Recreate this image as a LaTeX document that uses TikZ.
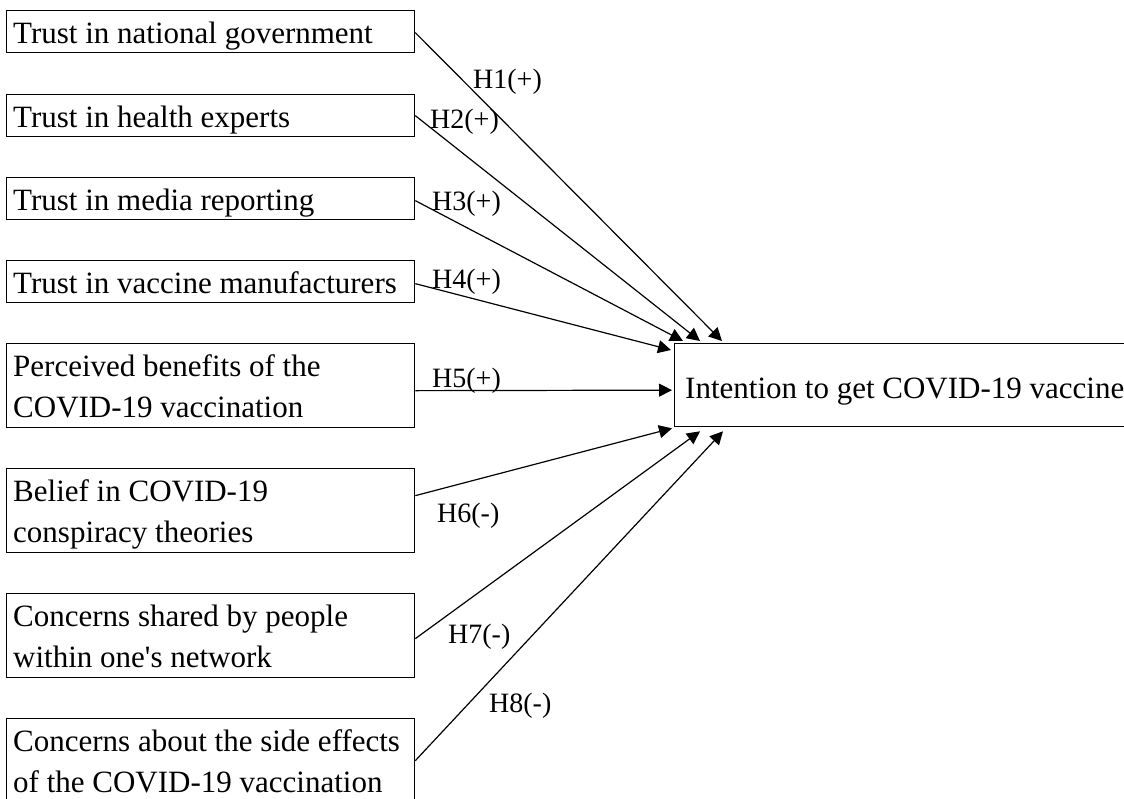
\documentclass[tikz,border=0pt]{standalone}
\usepackage{fontspec}
\setmainfont{Liberation Serif}
\usetikzlibrary{arrows.meta}
\tikzset{
  box/.style={draw=black, line width=1.3pt, inner sep=0pt, anchor=north west, minimum width=408pt},
  onebox/.style={box, minimum height=42pt},
  twobox/.style={box, minimum height=84pt},
  txt/.style={anchor=north west, inner sep=0pt, align=left, font=\fontsize{31}{41}\selectfont},
  hlab/.style={anchor=base west, inner sep=0pt, font=\fontsize{28}{34}\selectfont},
  link/.style={draw=black, line width=1.2pt, -{Triangle[length=13pt,width=13pt]}}
}
\newcommand{\fst}{\rule{0pt}{23pt}}
\begin{document}
\begin{tikzpicture}[x=1pt, y=-1pt]
\useasboundingbox (0,0) rectangle (1124,798);
\clip (0,0) rectangle (1124,798);
% predictor boxes
\node[onebox] (b1) at (6,10) {};
\node[onebox] (b2) at (6,94) {};
\node[onebox] (b3) at (6,177) {};
\node[onebox] (b4) at (6,260) {};
\node[twobox] (b5) at (6,343) {};
\node[twobox] (b6) at (6,468) {};
\node[twobox] (b7) at (6,593) {};
\node[twobox] (b8) at (6,718) {};
\node[txt] (t1) at (13,20) {\fst Trust in national government};
\node[txt] (t2) at (13,104) {\fst Trust in health experts};
\node[txt] (t3) at (13,187) {\fst Trust in media reporting};
\node[txt] (t4) at (13,270) {\fst Trust in vaccine manufacturers};
\node[txt] (t5) at (13,353) {\fst Perceived benefits of the\\COVID-19 vaccination};
\node[txt] (t6) at (13,478) {\fst Belief in COVID-19\\conspiracy theories};
\node[txt] (t7) at (13,603) {\fst Concerns shared by people\\within one\textquotesingle s network};
\node[txt] (t8) at (13,728) {\fst Concerns about the side effects\\of the COVID-19 vaccination};
% outcome box
\node[box, minimum width=470pt, minimum height=83pt] (tg) at (674,343) {};
\node[txt] (tt) at (685,375) {\fst Intention to get COVID-19 vaccine};
% connectors
\draw[link] ([yshift=-1pt]b1.east) -- ([xshift=48pt,yshift=2pt]tg.north west);
\draw[link] (b2.east) -- ([xshift=26pt,yshift=2pt]tg.north west);
\draw[link] ([yshift=-2pt]b3.east) -- ([xshift=9pt,yshift=2pt]tg.north west);
\draw[link] ([yshift=-2pt]b4.east) -- ([xshift=-3pt,yshift=-7pt]tg.north west);
\draw[link] ([yshift=-5pt]b5.east) -- ([xshift=-2pt,yshift=-5pt]tg.west);
\draw[link] ([yshift=15pt]b6.east) -- ([xshift=-2pt,yshift=-1pt]tg.south west);
\draw[link] ([yshift=-3pt]b7.east) -- ([xshift=26pt,yshift=-4pt]tg.south west);
\draw[link] (b8.east) -- ([xshift=49pt,yshift=-4pt]tg.south west);
% hypothesis labels
\node[hlab] (h1) at (473,88) {H1(+)};
\node[hlab] (h2) at (430,128) {H2(+)};
\node[hlab] (h3) at (432,210) {H3(+)};
\node[hlab] (h4) at (432,288) {H4(+)};
\node[hlab] (h5) at (432,387) {H5(+)};
\node[hlab] (h6) at (437,522) {H6(-)};
\node[hlab] (h7) at (448,643) {H7(-)};
\node[hlab] (h8) at (489,712) {H8(-)};
\end{tikzpicture}
\end{document}
